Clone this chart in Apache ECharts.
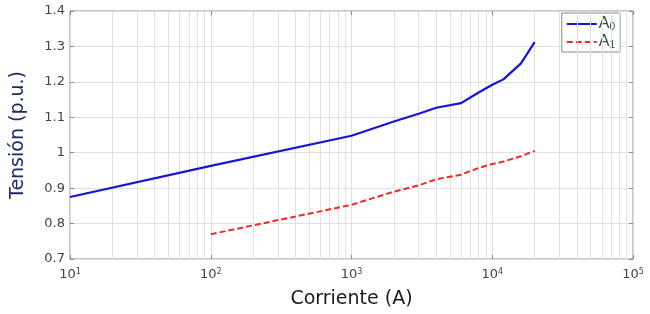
<!DOCTYPE html>
<html><head><meta charset="utf-8">
<script src="https://cdn.jsdelivr.net/npm/echarts@6/dist/echarts.min.js"></script>
<style>html,body{margin:0;padding:0;background:#fff}#c{width:650px;height:314px}</style>
</head><body><div id="c"></div>
<script>
const currentA0 = [10, 100, 1000, 2000, 3000, 4000, 6000, 8000, 10000, 12000, 16000, 20000];
const voltageA0 = [0.875, 0.963, 1.048, 1.088, 1.110, 1.127, 1.140, 1.170, 1.192, 1.207, 1.252, 1.312];
const currentA1 = [100, 1000, 2000, 3000, 4000, 6000, 8000, 10000, 12000, 16000, 20000];
const voltageA1 = [0.770, 0.853, 0.890, 0.908, 0.925, 0.938, 0.957, 0.968, 0.975, 0.990, 1.005];
const seriesNames = ['A0', 'A1'];
const xExponents = ['1', '2', '3', '4', '5'];
const yTicks = ['0.7', '0.8', '0.9', '1', '1.1', '1.2', '1.3', '1.4'];

const minorLines = [];
for (let d = 10; d < 100000; d *= 10) {
  for (let m = 2; m <= 9; m++) minorLines.push({ xAxis: m * d });
}
const gridColor = '#e0e0e0';
const legendFont = { fontFamily: 'sans-serif', fontStyle: 'normal', fontWeight: 'normal' };
const chart = echarts.init(document.getElementById('c'));
chart.setOption({
  animation: false,
  backgroundColor: '#fff',
  textStyle: { fontFamily: 'DejaVu Sans' },
  grid: { left: 70, right: 17, top: 11, bottom: 51, show: true, borderColor: '#8a8a8a', borderWidth: 1 },
  legend: {
    data: seriesNames, orient: 'vertical', right: 30, top: 13,
    backgroundColor: '#fff', borderColor: '#8a8a8a', borderWidth: 1,
    padding: [3, 5, 2, 4], itemGap: 2, itemWidth: 30, itemHeight: 14,
    itemStyle: { opacity: 0 },
    formatter: n => '{a|A}{s|' + n.slice(1) + '}',
    textStyle: Object.assign({ fontSize: 16, color: '#2b4a3c', padding: [0, 0, 0, -3],
      rich: { a: Object.assign({ fontSize: 16, color: '#2b4a3c' }, legendFont),
              s: Object.assign({ fontSize: 10, color: '#2b4a3c', verticalAlign: 'bottom', padding: [6, 0, 0, 0] }, legendFont) } }, legendFont)
  },
  xAxis: [{
    type: 'log', logBase: 10, min: 10, max: 100000,
    name: 'Corriente (A)', nameLocation: 'middle', nameGap: 31,
    nameTextStyle: { fontSize: 19, color: '#1a1a1a', fontFamily: 'DejaVu Sans' },
    axisLine: { show: false },
    axisTick: { show: true, inside: true, length: 4, lineStyle: { color: '#8a8a8a' } },
    splitLine: { show: true, lineStyle: { color: gridColor, width: 1 } },
    axisLabel: {
      margin: 9, color: '#444', fontFamily: 'DejaVu Sans',
      formatter: v => '{b|10}{s|' + xExponents[Math.round(Math.log10(v)) - 1] + '}',
      rich: { b: { fontSize: 13, fontFamily: 'DejaVu Sans', color: '#444' }, s: { fontSize: 8, fontFamily: 'DejaVu Sans', color: '#444', verticalAlign: 'top', padding: [0, 0, 6, 0] } }
    }
  }, {
    type: 'log', logBase: 10, min: 10, max: 100000, position: 'top',
    axisLine: { show: false }, axisLabel: { show: false }, splitLine: { show: false },
    axisTick: { show: true, inside: true, length: 4, lineStyle: { color: '#8a8a8a' } }
  }],
  yAxis: [{
    type: 'value', min: 0.7, max: 1.4, interval: 0.1,
    name: 'Tensión (p.u.)', nameLocation: 'middle', nameGap: 42,
    nameTextStyle: { fontSize: 19, color: '#1d2b66', fontFamily: 'DejaVu Sans' },
    axisLine: { show: false },
    axisTick: { show: true, inside: true, length: 4, lineStyle: { color: '#8a8a8a' } },
    splitLine: { show: true, lineStyle: { color: gridColor, width: 1 } },
    axisLabel: { margin: 5, fontSize: 13, color: '#444', fontFamily: 'DejaVu Sans',
      formatter: v => yTicks[Math.round((v - 0.7) * 10)] }
  }, {
    type: 'value', min: 0.7, max: 1.4, interval: 0.1, position: 'right',
    axisLine: { show: false }, axisLabel: { show: false }, splitLine: { show: false },
    axisTick: { show: true, inside: true, length: 4, lineStyle: { color: '#8a8a8a' } }
  }],
  series: [{
    name: 'minor', type: 'line', data: [], silent: true,
    markLine: { silent: true, symbol: 'none', label: { show: false }, animation: false,
      lineStyle: { color: gridColor, type: 'solid', width: 1 }, data: minorLines }
  }, {
    name: seriesNames[0], type: 'line', symbol: 'none', z: 5,
    lineStyle: { color: '#1414dc', width: 2.2 }, itemStyle: { color: '#1414dc' },
    data: currentA0.map((x, i) => [x, voltageA0[i]])
  }, {
    name: seriesNames[1], type: 'line', symbol: 'none', z: 5,
    lineStyle: { color: '#ee2a2a', width: 2, type: [6, 3] }, itemStyle: { color: '#ee2a2a' },
    data: currentA1.map((x, i) => [x, voltageA1[i]])
  }]
});
</script></body></html>
